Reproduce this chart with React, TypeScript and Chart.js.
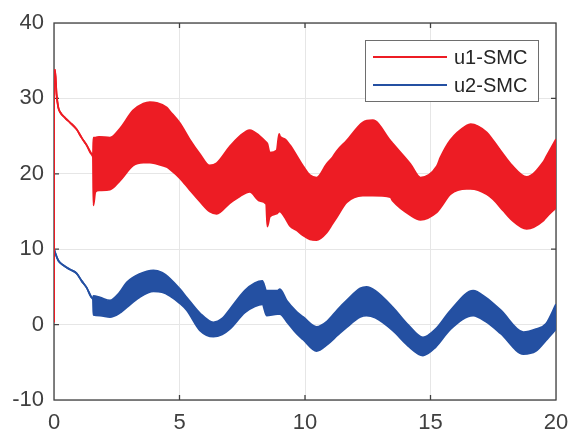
import React, { useEffect, useRef } from "react";
import { Chart, registerables } from "chart.js";

Chart.register(...registerables);

// ---- data (envelopes of the chattering signals) ----
const xTickValues = [0, 5, 10, 15, 20];
const yTickValues = [-10, 0, 10, 20, 30, 40];
const seriesNames = ["u1-SMC", "u2-SMC"];

// u1-SMC: initial transient (upper = lower) followed by the chattering band
const u1Time = [
  0, 0, 0.04, 0.1, 0.17, 0.24, 0.45, 0.64, 0.9, 1.1, 1.3, 1.5, 1.55,
  1.57, 1.65, 1.8, 2.23, 2.63, 3.15, 3.56, 3.82, 4.09, 4.49, 4.62, 5.02, 5.4, 5.82,
  6.2, 6.48, 7.0, 7.4, 7.8, 8.2, 8.45, 8.5, 8.6, 8.87, 8.97, 9.0, 9.2, 9.4, 9.67,
  9.93, 10.2, 10.46, 10.86, 11.1, 11.26, 11.66, 12.3, 12.7, 13.4, 13.5, 14.2, 14.6,
  15.25, 15.4, 15.8, 16.44, 16.6, 17.24, 17.5, 17.9, 18.2, 18.83, 19.5, 19.6, 20.0,
];
const u1Upper = [
  0.3, 33.0, 33.8, 30.6, 28.8, 28.2, 27.4, 26.8, 25.9, 24.8, 23.8, 22.6, 22.3,
  24.8, 24.8, 24.9, 24.8, 26.0, 28.4, 29.3, 29.5, 29.4, 28.8, 28.3, 26.7, 24.6, 22.6,
  21.1, 21.4, 23.6, 25.0, 25.8, 25.0, 24.2, 24.0, 22.8, 23.1, 25.3, 25.0, 24.6, 23.8, 22.4,
  21.0, 19.8, 19.5, 21.3, 22.2, 23.0, 24.4, 26.8, 27.1, 24.4, 24.0, 21.3, 19.5,
  21.0, 22.2, 24.5, 26.4, 26.6, 25.5, 24.4, 22.6, 21.3, 19.6, 21.6, 22.2, 24.6,
];
const u1Lower = [
  0.3, 33.0, 33.8, 30.6, 28.8, 28.2, 27.4, 26.8, 25.9, 24.8, 23.8, 22.6, 22.3,
  15.8, 17.6, 17.8, 17.9, 19.1, 21.1, 21.5, 21.5, 21.3, 20.9, 20.6, 19.4, 17.9, 16.3,
  15.0, 14.7, 16.1, 17.0, 17.6, 16.4, 16.0, 13.0, 14.3, 14.7, 15.0, 15.0, 14.2, 13.1, 12.5,
  11.8, 11.3, 11.2, 12.2, 13.4, 14.2, 16.2, 17.1, 17.1, 16.9, 16.4, 14.5, 13.9,
  14.9, 15.5, 17.3, 18.0, 18.0, 17.3, 16.6, 15.1, 14.0, 12.7, 13.8, 14.2, 15.5,
];

// u2-SMC
const u2Time = [
  0, 0, 0.04, 0.17, 0.4, 0.64, 0.9, 1.1, 1.3, 1.5, 1.55,
  1.57, 1.83, 2.23, 2.6, 2.9, 3.4, 3.96, 4.3, 4.62, 5.02, 5.29, 5.82, 6.35, 6.7,
  7.0, 7.6, 8.0, 8.3, 8.47, 8.9, 9.0, 9.27, 9.67, 9.93, 10.46, 10.9, 11.3, 11.66,
  12.2, 12.45, 12.8, 13.5, 14.1, 14.7, 15.2, 15.8, 16.7, 17.2, 17.8, 18.7, 19.2,
  19.6, 20.0,
];
const u2Upper = [
  1.6, 10.0, 9.6, 8.5, 7.8, 7.3, 6.8, 5.8, 4.9, 3.6, 3.4,
  3.8, 3.6, 3.2, 4.2, 5.6, 6.7, 7.2, 6.9, 6.1, 4.7, 3.6, 1.5, 0.3, 0.8,
  2.0, 4.5, 5.5, 5.8, 4.5, 4.5, 4.7, 3.2, 1.7, 1.0, -0.3, 0.5, 2.0, 3.2,
  4.8, 5.0, 4.5, 2.3, 0.0, -1.7, -0.6, 1.9, 4.5, 3.6, 1.9, -1.0, -0.6,
  0.1, 2.7,
];
const u2Lower = [
  1.6, 10.0, 9.6, 8.5, 7.8, 7.3, 6.8, 5.8, 4.9, 3.6, 3.4,
  1.3, 1.2, 1.0, 1.5, 2.3, 3.6, 4.4, 4.3, 3.8, 2.8, 1.9, -0.8, -1.6, -1.3,
  -0.6, 1.6, 2.4, 2.7, 1.2, 1.4, 1.4, 0.4, -1.2, -2.0, -3.5, -2.6, -1.4, -0.35,
  1.0, 1.2, 0.9, -0.8, -2.8, -4.1, -3.0, -0.6, 1.2, 0.4, -1.2, -3.9, -3.5,
  -2.1, -0.6,
];

const RED = "rgb(237,28,36)";
const BLUE = "rgb(36,80,162)";
const AXIS = "#404040";
const FONT = "'Liberation Sans', Arial, sans-serif";

const toPoints = (t: number[], v: number[]) => t.map((x, i) => ({ x, y: v[i] }));

const framePlugin = {
  id: "matlabFrame",
  beforeDatasetsDraw(chart: any) {
    const { ctx, chartArea: ca, scales } = chart;
    ctx.save();
    ctx.strokeStyle = AXIS;
    ctx.lineWidth = 1.3;
    ctx.strokeRect(ca.left, ca.top, ca.right - ca.left, ca.bottom - ca.top);
    const tl = 5;
    ctx.beginPath();
    xTickValues.forEach((v) => {
      const px = scales.x.getPixelForValue(v);
      if (Math.abs(px - ca.left) < 1 || Math.abs(px - ca.right) < 1) return;
      ctx.moveTo(px, ca.bottom);
      ctx.lineTo(px, ca.bottom - tl);
      ctx.moveTo(px, ca.top);
      ctx.lineTo(px, ca.top + tl);
    });
    yTickValues.forEach((v) => {
      const py = scales.y.getPixelForValue(v);
      if (Math.abs(py - ca.top) < 1 || Math.abs(py - ca.bottom) < 1) return;
      ctx.moveTo(ca.left, py);
      ctx.lineTo(ca.left + tl, py);
      ctx.moveTo(ca.right, py);
      ctx.lineTo(ca.right - tl, py);
    });
    ctx.stroke();
    ctx.restore();
  },
  afterDraw(chart: any) {
    const { ctx, chartArea: ca } = chart;
    ctx.save();
    // legend box (inside the axes, top right)
    const bw = 173;
    const bh = 61;
    const bx = ca.right - 18 - bw;
    const by = ca.top + 17;
    ctx.fillStyle = "#ffffff";
    ctx.fillRect(bx, by, bw, bh);
    ctx.strokeStyle = "#6e6e6e";
    ctx.lineWidth = 1;
    ctx.strokeRect(bx + 0.5, by + 0.5, bw, bh);
    const colors = [RED, BLUE];
    ctx.font = `20px ${FONT}`;
    ctx.textBaseline = "middle";
    ctx.textAlign = "left";
    seriesNames.forEach((name, i) => {
      const ly = by + 17 + i * 28;
      ctx.strokeStyle = colors[i];
      ctx.lineWidth = 2;
      ctx.beginPath();
      ctx.moveTo(bx + 8, ly);
      ctx.lineTo(bx + 82, ly);
      ctx.stroke();
      ctx.fillStyle = "#262626";
      ctx.fillText(name, bx + 89, ly + 1);
    });
    ctx.restore();
  },
};

export default function App() {
  const ref = useRef<HTMLCanvasElement | null>(null);

  useEffect(() => {
    if (!ref.current) return;
    const band = (label: string, t: number[], v: number[], color: string, fill: any) => ({
      label,
      data: toPoints(t, v),
      borderColor: color,
      backgroundColor: color,
      borderWidth: 1.8,
      pointRadius: 0,
      cubicInterpolationMode: "monotone" as const,
      fill,
    });
    const chart = new Chart(ref.current, {
      type: "line",
      data: {
        datasets: [
          band(seriesNames[0], u1Time, u1Upper, RED, "+1"),
          band(seriesNames[0] + " lower", u1Time, u1Lower, RED, false),
          band(seriesNames[1], u2Time, u2Upper, BLUE, "+1"),
          band(seriesNames[1] + " lower", u2Time, u2Lower, BLUE, false),
        ],
      },
      options: {
        animation: false,
        responsive: false,
        devicePixelRatio: 1,
        parsing: false as any,
        layout: { padding: { left: 0, top: 23, right: 13, bottom: 0 } },
        plugins: {
          legend: { display: false },
          tooltip: { enabled: false },
        },
        scales: {
          x: {
            type: "linear",
            min: 0,
            max: 20,
            afterBuildTicks: (s: any) => {
              s.ticks = xTickValues.map((value) => ({ value }));
            },
            afterFit: (s: any) => {
              s.height = 34;
              s.paddingLeft = 0;
              s.paddingRight = 0;
            },
            border: { display: false },
            grid: { color: "#e6e6e6", lineWidth: 1, drawTicks: false },
            ticks: {
              padding: 10,
              color: AXIS,
              font: { family: FONT, size: 22 },
              maxRotation: 0,
            },
          },
          y: {
            type: "linear",
            min: -10,
            max: 40,
            afterBuildTicks: (s: any) => {
              s.ticks = yTickValues.map((value) => ({ value }));
            },
            afterFit: (s: any) => {
              s.width = 54;
              s.paddingTop = 0;
              s.paddingBottom = 0;
            },
            border: { display: false },
            grid: { color: "#e6e6e6", lineWidth: 1, drawTicks: false },
            ticks: {
              padding: 10,
              color: AXIS,
              font: { family: FONT, size: 22 },
            },
          },
        },
      },
      plugins: [framePlugin],
    });
    return () => chart.destroy();
  }, []);

  return (
    <div style={{ position: "absolute", left: 0, top: 0, width: 569, height: 434, background: "#fff" }}>
      <canvas ref={ref} width={569} height={434} style={{ display: "block" }} />
    </div>
  );
}
